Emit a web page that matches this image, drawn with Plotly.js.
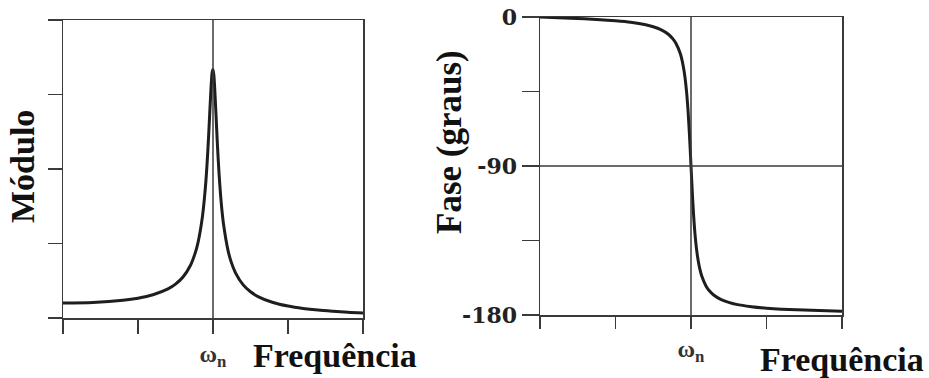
<!DOCTYPE html>
<html>
<head>
<meta charset="utf-8">
<script src="https://cdn.plot.ly/plotly-3.0.1.min.js"></script>
<style>html,body{margin:0;padding:0;background:#fff;}#chart{width:929px;height:378px;}</style>
</head>
<body>
<div id="chart"></div>
<script>
// Frequency ratio (omega / omega_n), read along the horizontal axis
const freqRatio = [0, 0.2, 0.4, 0.5, 0.6, 0.7, 0.75, 0.8, 0.85, 0.88, 0.9, 0.93, 0.95, 0.96, 0.97, 0.98, 0.99, 0.995, 1.0,
                   1.005, 1.01, 1.02, 1.03, 1.04, 1.05, 1.06, 1.07, 1.1, 1.12, 1.15, 1.2, 1.25, 1.3, 1.4, 1.5, 1.6, 1.7, 1.8, 1.9, 2.0];
// Magnitude (módulo)
const modulo = [1.0, 1.04, 1.19, 1.33, 1.56, 1.95, 2.27, 2.75, 3.54, 4.32, 5.06, 6.84, 8.85, 10.28, 12.05, 14.1, 15.96, 16.52, 16.67,
                16.36, 15.67, 13.64, 11.52, 9.74, 8.31, 7.19, 6.31, 4.54, 3.80, 3.03, 2.24, 1.76, 1.44, 1.04, 0.80, 0.64, 0.53, 0.45, 0.38, 0.33];
// Phase (graus)
const fase = [0, -0.7, -1.6, -2.3, -3.2, -4.7, -5.9, -7.6, -10.4, -13.2, -15.9, -22.4, -30.3, -36.3, -44.6, -56.0, -71.5, -80.5, -90,
              -99.4, -108.4, -123.4, -134.6, -142.6, -148.4, -152.8, -156.1, -162.6, -165.2, -167.9, -170.7, -172.4, -173.6, -175.0, -175.9, -176.5, -176.9, -177.2, -177.5, -177.7];
// Tick positions and labels
const xTickVals = [0, 0.5, 1, 1.5, 2];
const xTickText = ['', '', '<b>ω<sub>n</sub></b>', '', ''];
const modTickVals = [0, 5, 10, 15, 20];
const faseTickVals = [0, -45, -90, -135, -180];
const faseTickText = ['<b>0</b>', '', '<b>-90</b>', '', '<b>-180</b>'];
const OMEGA_N = 1;
const FASE_REF = -90;

const W = 929, H = 378;
const px = v => v / W;
const py = v => 1 - v / H;

const lineColor = '#3a3a3a';
const curveColor = '#1e1e1e';
const serif = 'Liberation Serif, Times New Roman, serif';

const traces = [
  { x: freqRatio, y: modulo, xaxis: 'x', yaxis: 'y', mode: 'lines',
    line: { color: curveColor, width: 3, shape: 'spline', smoothing: 0.8 }, hoverinfo: 'skip' },
  { x: freqRatio, y: fase, xaxis: 'x2', yaxis: 'y2', mode: 'lines',
    line: { color: curveColor, width: 3, shape: 'spline', smoothing: 0.8 }, hoverinfo: 'skip' }
];

const axBase = {
  showline: true, mirror: true, linecolor: lineColor, linewidth: 1.5,
  showgrid: false, zeroline: false, ticks: 'outside', tickcolor: lineColor, tickwidth: 1.5,
  fixedrange: true
};

const layout = {
  width: W, height: H,
  margin: { l: 0, r: 0, t: 0, b: 0 },
  paper_bgcolor: '#ffffff', plot_bgcolor: '#ffffff',
  showlegend: false,
  xaxis: Object.assign({}, axBase, {
    domain: [px(63), px(363)], range: [0, 2], anchor: 'y',
    tickmode: 'array', tickvals: xTickVals, ticktext: xTickText, ticklen: 14,
    tickfont: { family: serif, size: 24, color: '#333' }
  }),
  yaxis: Object.assign({}, axBase, {
    domain: [py(318), py(20)], range: [0, 20], anchor: 'x',
    tickmode: 'array', tickvals: modTickVals, ticklen: 14, showticklabels: false
  }),
  xaxis2: Object.assign({}, axBase, {
    domain: [px(540), px(842)], range: [0, 2], anchor: 'y2',
    tickmode: 'array', tickvals: xTickVals, ticktext: xTickText, ticklen: 12,
    tickfont: { family: serif, size: 24, color: '#333' }
  }),
  yaxis2: Object.assign({}, axBase, {
    domain: [py(315), py(17)], range: [-180, 0], anchor: 'x2',
    tickmode: 'array', tickvals: faseTickVals, ticktext: faseTickText, ticklen: 17,
    tickfont: { family: 'DejaVu Serif, serif', size: 22, color: '#222' }
  }),
  shapes: [
    { type: 'line', xref: 'x', yref: 'y domain', x0: OMEGA_N, x1: OMEGA_N, y0: 0, y1: 1,
      line: { color: lineColor, width: 1.5 } },
    { type: 'line', xref: 'x2', yref: 'y2 domain', x0: OMEGA_N, x1: OMEGA_N, y0: 0, y1: 1,
      line: { color: lineColor, width: 1.5 } },
    { type: 'line', xref: 'x2 domain', yref: 'y2', x0: 0, x1: 1, y0: FASE_REF, y1: FASE_REF,
      line: { color: lineColor, width: 1.5 } }
  ],
  annotations: [
    { text: '<b>Módulo</b>', xref: 'paper', yref: 'paper', x: px(22), y: py(167),
      xanchor: 'center', yanchor: 'middle', textangle: -90, showarrow: false,
      font: { family: serif, size: 34, color: '#111' } },
    { text: '<b>Fase (graus)</b>', xref: 'paper', yref: 'paper', x: px(450), y: py(142),
      xanchor: 'center', yanchor: 'middle', textangle: -90, showarrow: false,
      font: { family: serif, size: 35, color: '#111' } },
    { text: '<b>Frequência</b>', xref: 'paper', yref: 'paper', x: px(335), y: py(355),
      xanchor: 'center', yanchor: 'middle', showarrow: false,
      font: { family: serif, size: 34, color: '#111' } },
    { text: '<b>Frequência</b>', xref: 'paper', yref: 'paper', x: px(842), y: py(359),
      xanchor: 'center', yanchor: 'middle', showarrow: false,
      font: { family: serif, size: 34, color: '#111' } }
  ]
};

Plotly.newPlot('chart', traces, layout, { displayModeBar: false, staticPlot: true });
</script>
</body>
</html>
